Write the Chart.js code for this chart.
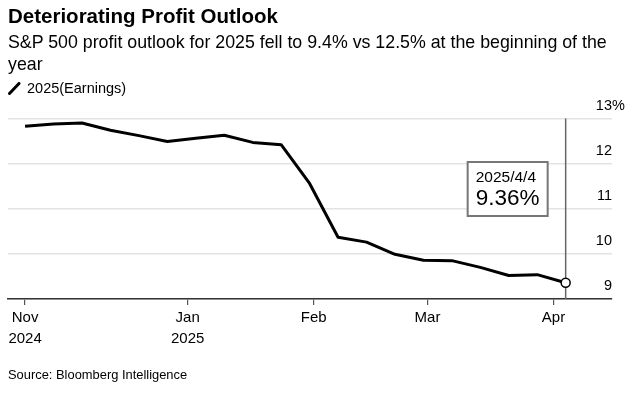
<!DOCTYPE html>
<html>
<head>
<meta charset="utf-8">
<script src="https://cdn.jsdelivr.net/npm/chart.js@4.4.1/dist/chart.umd.min.js"></script>
<style>
  html,body{margin:0;padding:0;background:#fff;}
  body{width:632px;height:394px;position:relative;overflow:hidden;font-family:'Liberation Sans',Arial,Helvetica,sans-serif;color:#000;}
  #chart{position:absolute;left:0;top:0;}
  .t{position:absolute;white-space:nowrap;z-index:2;}
  #title{left:8px;top:4px;font-weight:bold;font-size:20.5px;line-height:24px;}
  #sub{left:8px;top:31px;font-size:17.8px;line-height:22px;}
  #legend{left:8px;top:79px;font-size:14.5px;line-height:18px;}
  #legend svg{vertical-align:-2px;margin-right:6px;}
  #source{left:8px;top:367px;font-size:12.9px;line-height:16px;}
</style>
</head>
<body>
<div class="t" id="title">Deteriorating Profit Outlook</div>
<div class="t" id="sub">S&amp;P 500 profit outlook for 2025 fell to 9.4% vs 12.5% at the beginning of the<br>year</div>
<div class="t" id="legend"><svg width="13" height="13"><line x1="1.5" y1="11.5" x2="11" y2="1.5" stroke="#000" stroke-width="3" stroke-linecap="round"/></svg>2025(Earnings)</div>
<div class="t" id="source">Source: Bloomberg Intelligence</div>
<canvas id="chart" width="632" height="394"></canvas>
<script>
// ---- data ----
const dates = ['2024-11-22','2024-11-29','2024-12-06','2024-12-13','2024-12-20','2024-12-27',
  '2025-01-03','2025-01-10','2025-01-17','2025-01-24','2025-01-31','2025-02-07','2025-02-14',
  '2025-02-21','2025-02-28','2025-03-07','2025-03-14','2025-03-21','2025-03-28','2025-04-04'];
const earnings2025 = [12.83,12.88,12.90,12.74,12.62,12.49,12.56,12.63,12.47,12.42,11.56,10.37,10.26,
  9.99,9.86,9.85,9.70,9.52,9.54,9.36];
const xTickDates = ['2024-11-22','2025-01-01','2025-02-01','2025-03-01','2025-04-01'];
const xTickLabels = [['Nov','2024'],['Jan','2025'],['Feb',''],['Mar',''],['Apr','']];
const yTickValues = [9,10,11,12,13];
const yTickLabels = ['9','10','11','12','13'];
const yUnit = '%';

const DAY = 86400000;
const t0 = Date.parse(dates[0]);
const dayOf = d => (Date.parse(d) - t0) / DAY;
const points = dates.map((d,i)=>({x: dayOf(d), y: earnings2025[i]}));
const tickDays = xTickDates.map(dayOf);

const FONT = "'Liberation Sans', Arial, Helvetica, sans-serif";

const overlay = {
  id:'overlay',
  beforeDatasetsDraw(chart){
    const {ctx, chartArea, scales:{x}} = chart;
    const last = points[points.length-1];
    const px = x.getPixelForValue(last.x);
    ctx.save();
    ctx.strokeStyle = '#666';
    ctx.lineWidth = 1.5;
    ctx.beginPath();
    ctx.moveTo(px, chartArea.top);
    ctx.lineTo(px, chartArea.bottom);
    ctx.stroke();
    ctx.restore();
  },
  afterDraw(chart){
    const {ctx, chartArea, scales:{x,y}} = chart;
    ctx.save();
    // y labels above gridlines
    ctx.fillStyle = '#000';
    ctx.font = '14.5px ' + FONT;
    ctx.textAlign = 'right';
    ctx.textBaseline = 'middle';
    yTickValues.forEach((v,i)=>{
      const py = y.getPixelForValue(v) - 13;
      ctx.fillText(yTickLabels[i], chartArea.right, py);
      if (i === yTickValues.length-1){
        ctx.textAlign = 'left';
        ctx.fillText(yUnit, chartArea.right, py);
        ctx.textAlign = 'right';
      }
    });
    // annotation box
    const last = points[points.length-1];
    const px = x.getPixelForValue(last.x);
    const bx = px - 98, bw = 80, by = chartArea.top + 43.5, bh = 54;
    ctx.fillStyle = '#fff';
    ctx.fillRect(bx, by, bw, bh);
    ctx.strokeStyle = '#777';
    ctx.lineWidth = 2;
    ctx.strokeRect(bx, by, bw, bh);
    const d = new Date(dates[dates.length-1] + 'T00:00:00');
    const dl = d.getFullYear() + '/' + (d.getMonth()+1) + '/' + d.getDate();
    ctx.fillStyle = '#000';
    ctx.textAlign = 'left';
    ctx.font = '15.5px ' + FONT;
    ctx.fillText(dl, bx + 8, by + 15.5);
    ctx.font = '22.5px ' + FONT;
    ctx.fillText(last.y.toFixed(2) + '%', bx + 8, by + 36.5);
    ctx.restore();
  }
};

new Chart(document.getElementById('chart'), {
  type:'line',
  data:{datasets:[{
    label:'2025(Earnings)',
    data: points,
    borderColor:'#000',
    borderWidth:3,
    tension:0,
    pointRadius: points.map((p,i)=> i===points.length-1 ? 4.5 : 0),
    pointBackgroundColor:'#fff',
    pointBorderColor:'#000',
    pointBorderWidth:1.5,
    borderJoinStyle:'round',
    clip:false
  }]},
  options:{
    responsive:false,
    animation:false,
    events:[],
    layout:{padding:{left:8,right:20,top:118.5,bottom:45}},
    plugins:{legend:{display:false},tooltip:{enabled:false},title:{display:false}},
    scales:{
      x:{
        type:'linear',
        min:-4.2, max:144.4,
        afterBuildTicks(scale){ scale.ticks = tickDays.map(v=>({value:v})); },
        afterFit(scale){ scale.height = 50; },
        grid:{drawOnChartArea:false, drawTicks:true, tickLength:6, tickColor:'#555', lineWidth:1.2},
        border:{display:true, color:'#333', width:1.5},
        ticks:{
          autoSkip:false, maxRotation:0, padding:3,
          color:'#000',
          font:{family:FONT, size:15, lineHeight:1.35},
          callback(v){ const i = tickDays.indexOf(v); return i>=0 ? xTickLabels[i] : ''; }
        }
      },
      y:{
        position:'right',
        min:9, max:13,
        afterBuildTicks(scale){ scale.ticks = yTickValues.map(v=>({value:v})); },
        afterFit(scale){ scale.width = 0; },
        grid:{color:'#e3e3e3', lineWidth:1.5, drawTicks:false},
        border:{display:false},
        ticks:{display:false}
      }
    }
  },
  plugins:[overlay]
});
</script>
</body>
</html>
